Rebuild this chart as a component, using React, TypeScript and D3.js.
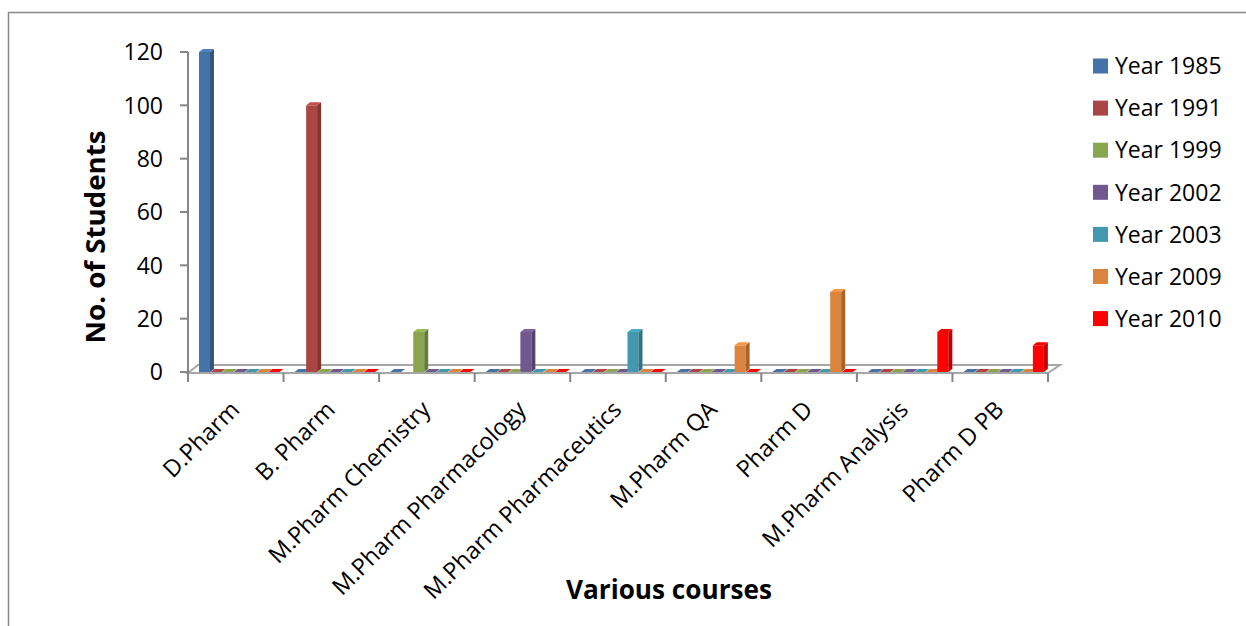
import React from "react";
import * as d3 from "d3";

const categories = [
  "D.Pharm",
  "B. Pharm",
  "M.Pharm Chemistry",
  "M.Pharm Pharmacology",
  "M.Pharm Pharmaceutics",
  "M.Pharm QA",
  "Pharm D",
  "M.Pharm Analysis",
  "Pharm D PB",
];

const seriesNames = ["Year 1985", "Year 1991", "Year 1999", "Year 2002", "Year 2003", "Year 2009", "Year 2010"];

const y1985 = [120, 0, 0, 0, 0, 0, 0, 0, 0];
const y1991 = [0, 100, null, 0, 0, 0, 0, 0, 0];
const y1999 = [0, 0, 15, 0, 0, 0, 0, 0, 0];
const y2002 = [0, 0, 0, 15, 0, 0, 0, 0, 0];
const y2003 = [0, 0, 0, 0, 15, 0, 0, 0, 0];
const y2009 = [0, 0, 0, 0, 0, 10, 30, 0, 0];
const y2010 = [0, 0, 0, 0, 0, 0, 0, 15, 10];

const seriesValues: (number | null)[][] = [y1985, y1991, y1999, y2002, y2003, y2009, y2010];

const colors = ["#4572A7", "#AA4643", "#89A54E", "#71588F", "#4198AF", "#DB843D", "#FF0000"];

const yTicks = [0, 20, 40, 60, 80, 100, 120];

const FONT = "'Open Sans', 'Noto Sans', sans-serif";

export default function App() {
  const left = 188;
  const right = 1048;
  const yTop = 52;
  const yBase = 372;
  const dx = 4;
  const dy = 3;

  const x = d3.scaleBand<string>().domain(categories).range([left, right]).padding(0);
  const inner = d3
    .scaleBand<number>()
    .domain(d3.range(seriesNames.length))
    .range([11, 92])
    .padding(0);
  const y = d3.scaleLinear().domain([0, 120]).range([yBase, yTop]);
  const bw = inner.bandwidth() - 0.6;

  const marks: React.ReactNode[] = [];
  categories.forEach((cat, ci) => {
    seriesValues.forEach((vals, si) => {
      const v = vals[ci];
      if (v === null || v === undefined) return;
      const x0 = (x(cat) as number) + (inner(si) as number);
      const c = d3.color(colors[si])!;
      const side = c.darker(0.8).formatHex();
      const top = c.brighter(0.35).formatHex();
      const yt = y(v);
      const key = `${ci}-${si}`;
      if (v > 0) {
        marks.push(
          <g key={key}>
            <rect x={x0} y={yt} width={bw} height={yBase - yt} fill={colors[si]} />
            <polygon
              points={`${x0 + bw},${yt} ${x0 + bw + dx},${yt - dy} ${x0 + bw + dx},${yBase - dy} ${x0 + bw},${yBase}`}
              fill={side}
            />
            <polygon
              points={`${x0},${yt} ${x0 + bw},${yt} ${x0 + bw + dx},${yt - dy} ${x0 + dx},${yt - dy}`}
              fill={top}
            />
          </g>
        );
      } else {
        marks.push(
          <polygon
            key={key}
            points={`${x0},${yBase} ${x0 + bw},${yBase} ${x0 + bw + dx},${yBase - dy} ${x0 + dx},${yBase - dy}`}
            fill={colors[si]}
          />
        );
      }
    });
  });

  const floorDx = 10;
  const floorDy = 8;
  const floorY = 373;

  return (
    <div style={{ position: "fixed", left: 0, top: 0, width: 1246, height: 626, background: "#fff" }}>
      <svg width={1246} height={626} style={{ display: "block" }}>
        <rect x={0} y={0} width={1246} height={626} fill="#fff" />
        {/* outer border */}
        <rect x={8.5} y={12.5} width={1300} height={700} fill="none" stroke="#8a8a8a" strokeWidth={1.5} />

        {/* floor */}
        <polygon
          points={`${left},${floorY} ${right},${floorY} ${right + floorDx + 2},${floorY - floorDy} ${left + floorDx},${floorY - floorDy}`}
          fill="#fff"
          stroke="#a6a6a6"
          strokeWidth={2}
        />

        {/* y axis */}
        <line x1={left} x2={left} y1={yTop} y2={floorY} stroke="#868686" strokeWidth={2} />
        {yTicks.map((t) => (
          <g key={t}>
            <line x1={left - 8} x2={left} y1={y(t)} y2={y(t)} stroke="#868686" strokeWidth={2} />
            <text
              x={163}
              y={y(t)}
              dy="0.36em"
              textAnchor="end"
              fontFamily={FONT}
              fontSize={23}
              fill="#000"
            >
              {t}
            </text>
          </g>
        ))}

        {/* category ticks */}
        {[...categories.map((c) => x(c) as number), right].map((tx, i) => (
          <line key={i} x1={tx} x2={tx} y1={floorY} y2={floorY + 9} stroke="#868686" strokeWidth={2} />
        ))}

        {marks}

        {/* category labels */}
        {categories.map((c) => {
          const cx = (x(c) as number) + x.bandwidth() / 2 + 5;
          return (
            <text
              key={c}
              transform={`translate(${cx},${411}) rotate(-45)`}
              textAnchor="end"
              fontFamily={FONT}
              fontSize={23.5}
              fill="#000"
            >
              {c}
            </text>
          );
        })}

        {/* axis titles */}
        <text
          transform="translate(105,237) rotate(-90)"
          textAnchor="middle"
          fontFamily={FONT}
          fontWeight="bold"
          fontSize={26}
          textLength={213}
          lengthAdjust="spacingAndGlyphs"
          fill="#000"
        >
          No. of Students
        </text>
        <text
          x={669}
          y={599}
          textAnchor="middle"
          fontFamily={FONT}
          fontWeight="bold"
          fontSize={26}
          textLength={206}
          lengthAdjust="spacingAndGlyphs"
          fill="#000"
        >
          Various courses
        </text>

        {/* legend */}
        {seriesNames.map((s, i) => {
          const cy = 66 + i * 42.1;
          return (
            <g key={s}>
              <rect x={1093} y={cy - 7.5} width={15} height={15} fill={colors[i]} />
              <text x={1115} y={cy} dy="0.36em" fontFamily={FONT} fontSize={23} fill="#000">
                {s}
              </text>
            </g>
          );
        })}
      </svg>
    </div>
  );
}
